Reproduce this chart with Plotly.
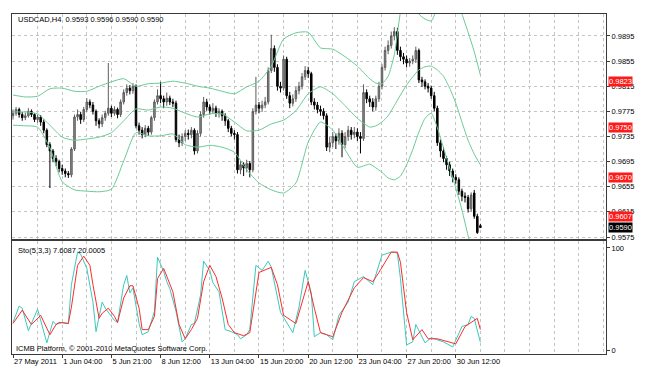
import plotly.graph_objects as go
from plotly.subplots import make_subplots

# ---------------- data (prices in 1/10000 units) ----------------
bars = list(range(153))

opens = [9768,9772,9778,9770,9765,9768,9775,9770,9762,9766,9758,9745,9722,9712,9700,9695,9684,9680,9676,9674,
         9715,9766,9770,9762,9778,9790,9785,9775,9760,9755,9765,9772,9780,9772,9778,9770,9790,9805,9812,9808,
         9815,9752,9745,9738,9748,9742,9765,9790,9800,9795,9790,9796,9790,9788,9730,9725,9735,9740,9738,9745,
         9712,9740,9770,9790,9782,9776,9780,9772,9775,9768,9760,9748,9740,9738,9682,9690,9685,9692,9682,9775,
         9785,9780,9785,9790,9840,9875,9845,9815,9812,9858,9800,9788,9795,9808,9815,9830,9840,9835,9790,9785,
         9778,9775,9768,9718,9725,9735,9728,9740,9722,9735,9745,9738,9742,9735,9732,9805,9795,9790,9782,9795,
         9815,9845,9872,9880,9895,9902,9872,9862,9858,9852,9855,9858,9872,9825,9822,9815,9812,9800,9780,9725,
         9712,9700,9690,9680,9670,9666,9648,9640,9638,9620,9645,9608,9593]
highs = [9778,9782,9781,9774,9773,9780,9778,9772,9770,9769,9762,9748,9726,9715,9705,9698,9690,9684,9680,9718,
         9770,9778,9774,9782,9796,9794,9790,9778,9764,9770,9776,9852,9784,9783,9781,9794,9810,9818,9817,9820,
         9818,9757,9750,9753,9752,9768,9794,9810,9822,9800,9805,9800,9795,9792,9738,9740,9745,9746,9750,9748,
         9745,9775,9798,9795,9786,9788,9784,9780,9778,9772,9763,9752,9745,9742,9696,9694,9698,9696,9780,9830,
         9790,9792,9798,9845,9897,9880,9850,9822,9864,9862,9806,9802,9814,9822,9836,9847,9846,9838,9796,9790,
         9784,9780,9772,9735,9742,9740,9748,9745,9742,9752,9750,9750,9748,9742,9818,9810,9800,9796,9800,9822,
         9850,9878,9888,9902,9909,9908,9878,9868,9864,9860,9864,9878,9875,9830,9826,9820,9816,9806,9784,9730,
         9718,9704,9695,9684,9675,9670,9652,9646,9642,9646,9650,9612,9596]
lows = [9762,9768,9765,9760,9761,9765,9766,9758,9757,9752,9740,9718,9653,9694,9688,9678,9674,9670,9669,9670,
        9712,9760,9755,9758,9774,9780,9770,9752,9748,9750,9760,9768,9766,9768,9764,9766,9786,9800,9802,9803,
        9748,9738,9732,9734,9736,9738,9760,9786,9788,9780,9784,9785,9782,9726,9718,9720,9728,9730,9732,9706,
        9708,9735,9765,9776,9770,9771,9766,9765,9760,9752,9742,9735,9730,9676,9675,9672,9678,9670,9678,9770,
        9772,9774,9780,9786,9836,9838,9808,9805,9808,9795,9780,9783,9790,9802,9810,9825,9828,9785,9778,9772,
        9768,9762,9712,9710,9718,9715,9722,9702,9716,9728,9730,9732,9728,9708,9728,9788,9782,9775,9776,9790,
        9810,9840,9866,9875,9888,9865,9855,9850,9845,9846,9850,9852,9820,9814,9810,9805,9795,9775,9720,9702,
        9694,9682,9672,9662,9660,9642,9632,9630,9614,9615,9604,9580,9590]
closes = [9772,9778,9770,9765,9768,9775,9770,9762,9766,9758,9745,9722,9712,9700,9695,9684,9680,9676,9674,9715,
          9766,9770,9762,9778,9790,9785,9775,9760,9755,9765,9772,9780,9772,9778,9770,9790,9805,9812,9808,9815,
          9752,9745,9738,9748,9742,9765,9790,9800,9795,9790,9796,9790,9788,9730,9725,9735,9740,9738,9745,9712,
          9740,9770,9790,9782,9776,9780,9772,9775,9768,9760,9748,9740,9738,9682,9690,9685,9692,9682,9775,9785,
          9780,9785,9790,9840,9875,9845,9815,9812,9858,9800,9788,9795,9808,9815,9830,9840,9835,9790,9785,9778,
          9775,9768,9718,9725,9735,9728,9740,9722,9735,9745,9738,9742,9735,9732,9805,9795,9790,9782,9795,9815,
          9845,9872,9880,9895,9902,9872,9862,9858,9852,9855,9858,9872,9825,9822,9815,9812,9800,9780,9725,9712,
          9700,9690,9680,9670,9666,9648,9640,9638,9620,9642,9608,9582,9590]

# Bollinger bands read at sampled bars
band_bar = [0,4,8,12,16,20,24,28,32,36,40,44,48,52,56,60,64,68,72,76,80,84,88,92,96,100,104,108,112,116,
            118,120,122,124,126,128,130,132,134,136,138,140,142,144,146,148,150,152]
bb_upper = [0.9801,0.9798,0.9799,0.9811,0.9812,0.9807,0.9807,0.9815,0.9822,0.9827,0.9815,0.9819,0.9820,0.9823,
            0.9820,0.9815,0.9812,0.9807,0.9803,0.9814,0.9823,0.9847,0.9890,0.9900,0.9901,0.9876,0.9874,0.9862,
            0.9847,0.9827,0.9820,0.9819,0.9831,0.9865,0.9933,0.9976,0.9965,0.9930,0.9922,0.9919,0.9940,0.9965,
            0.9968,0.9957,0.9930,0.9901,0.9870,0.9833]
bb_middle = [0.9774,0.9774,0.9771,0.9753,0.9734,0.9729,0.9731,0.9734,0.9741,0.9760,0.9779,0.9777,0.9782,0.9780,
             0.9772,0.9766,0.9771,0.9771,0.9758,0.9744,0.9745,0.9755,0.9761,0.9776,0.9803,0.9814,0.9803,0.9784,
             0.9764,0.9750,0.9752,0.9758,0.9768,0.9784,0.9801,0.9817,0.9830,0.9841,0.9846,0.9847,0.9841,0.9831,
             0.9812,0.9788,0.9758,0.9729,0.9707,0.9690]
bb_lower = [0.9753,0.9752,0.9750,0.9717,0.9663,0.9650,0.9648,0.9647,0.9651,0.9696,0.9741,0.9736,0.9736,0.9739,
            0.9722,0.9718,0.9721,0.9718,0.9710,0.9682,0.9661,0.9650,0.9645,0.9661,0.9726,0.9758,0.9745,0.9714,
            0.9686,0.9691,0.9685,0.9678,0.9669,0.9666,0.9672,0.9690,0.9714,0.9742,0.9764,0.9772,0.9749,0.9717,
            0.9685,0.9653,0.9618,0.9577,0.9542,0.9507]

# Stochastic (5,3,3)
k_bar = [0,2,3,5,8,11,13,14,16,18,19,21,22,24,26,27,29,30,33,34,36,37,38,39,41,42,44,46,47,49,50,51,53,55,56,
         58,59,61,62,64,65,67,69,71,73,74,76,77,79,81,83,84,87,88,91,93,95,97,98,100,102,104,106,109,111,114,117,
         120,123,125,126,128,130,131,134,136,140,143,146,148,149,150,152]
k_val = [27,43,41,19,40,7,28,25,27,26,64,96,94,80,47,18,47,41,29,27,64,73,56,61,26,15,18,38,91,77,67,60,38,8,11,
         25,26,54,87,78,66,57,20,18,15,11,15,20,83,78,87,81,37,32,17,42,78,56,13,17,15,10,34,47,67,72,64,
         93,96,95,70,5,8,25,7,12,8,3,23,25,33,31,7.6087]
d_bar = [0,3,6,9,12,14,15,18,19,21,23,25,26,28,29,31,33,34,36,38,39,41,42,44,46,47,49,51,52,54,56,58,60,62,64,
         66,68,70,72,75,77,80,83,84,86,88,92,96,98,100,102,104,107,111,114,117,119,123,125,126,128,130,133,135,
         138,144,147,151,152]
d_val = [26,39,25,34,15,25,27,26,42,83,92,83,64,31,36,41,33,27,51,63,63,41,20,20,33,70,80,64,57,25,11,20,31,67,83,
         72,51,25,17,14,17,76,80,81,64,34,26,67,41,17,15,13,37,61,71,67,76,96,96,86,37,10,20,11,
         11,6,23,31,20.0005]

time_ticks = [0,16,32,48,64,80,96,112,128,144]
time_labels = ["27 May 2011","1 Jun 04:00","5 Jun 21:00","8 Jun 12:00","13 Jun 04:00",
               "15 Jun 20:00","20 Jun 12:00","23 Jun 04:00","27 Jun 20:00","30 Jun 12:00"]
price_ticks = [0.9575,0.9615,0.9655,0.9695,0.9735,0.9775,0.9815,0.9855,0.9895]
red_levels = [0.9823,0.9750,0.9670,0.9607]
bid_level = 0.9590

# ---------------- figure ----------------
FONT = "Liberation Sans"
FS = 7.5
GRID = "#c4c4c4"
BB = "#6acb95"

fig = make_subplots(rows=2, cols=1, shared_xaxes=True, vertical_spacing=0.0)

fig.add_hline(y=bid_level, line=dict(color="#c8c8c8", width=2), layer="below", row=1, col=1)
for lv in red_levels:
    fig.add_hline(y=lv, line=dict(color="#ff3a3a", width=1.5), layer="above", row=1, col=1)

for band in (bb_upper, bb_middle, bb_lower):
    fig.add_trace(go.Scatter(x=band_bar, y=band, mode="lines",
                             line=dict(color=BB, width=1, shape="spline", smoothing=0.6),
                             hoverinfo="skip"), row=1, col=1)

fig.add_trace(go.Candlestick(
    x=bars,
    open=[v / 10000 for v in opens], high=[v / 10000 for v in highs],
    low=[v / 10000 for v in lows], close=[v / 10000 for v in closes],
    increasing=dict(line=dict(color="#5c5c5c", width=1), fillcolor="#8e8e8e"),
    decreasing=dict(line=dict(color="#000000", width=1), fillcolor="#000000"),
    whiskerwidth=0, hoverinfo="skip"), row=1, col=1)

fig.add_trace(go.Scatter(x=k_bar, y=k_val, mode="lines",
                         line=dict(color="#3cc8bc", width=1), hoverinfo="skip"), row=2, col=1)
fig.add_trace(go.Scatter(x=d_bar, y=d_val, mode="lines",
                         line=dict(color="#ff2a2a", width=1), hoverinfo="skip"), row=2, col=1)

xcommon = dict(range=[-0.325, 192.85], tickmode="array", tickvals=time_ticks,
               showgrid=True, gridcolor=GRID, griddash="dot", gridwidth=1,
               minor=dict(tickmode="linear", tick0=0, dtick=8, showgrid=True,
                          gridcolor=GRID, griddash="dot", gridwidth=1),
               showline=True, mirror=True, linecolor="#3a3a3a", linewidth=1,
               zeroline=False, fixedrange=True, automargin=False, tickangle=0)

fig.update_layout(
    width=654, height=377,
    margin=dict(l=12, r=48, t=14, b=23, autoexpand=False),
    paper_bgcolor="white", plot_bgcolor="white",
    showlegend=False, hovermode=False,
    font=dict(family=FONT, size=FS, color="black"),
)
fig.update_xaxes(**xcommon)
fig.update_layout(
    xaxis=dict(rangeslider=dict(visible=False), showticklabels=False, ticks=""),
    xaxis2=dict(showticklabels=True, ticktext=time_labels, ticks="outside", ticklen=3,
                tickcolor="#3a3a3a", ticklabelposition="outside right",
                tickfont=dict(family=FONT, size=FS)),
    yaxis=dict(domain=[0.3382, 1.0], side="right", range=[0.95718, 0.99300],
               tickmode="array", tickvals=price_ticks, ticktext=[f"{v:.4f}" for v in price_ticks],
               showgrid=True, gridcolor=GRID, griddash="dot", ticks="outside", ticklen=3,
               tickcolor="#3a3a3a", showline=True, mirror=True, linecolor="#3a3a3a",
               zeroline=False, fixedrange=True, automargin=False, tickfont=dict(family=FONT, size=FS)),
    yaxis2=dict(domain=[0.0, 0.3324], side="right", range=[-3.92, 106.86],
                tickmode="array", tickvals=[0, 100], ticktext=["0", "100"],
                showgrid=False, ticks="outside", ticklen=3, tickcolor="#3a3a3a",
                showline=True, mirror=True, linecolor="#3a3a3a",
                zeroline=False, fixedrange=True, automargin=False, tickfont=dict(family=FONT, size=FS)),
)

ann = []
ann.append(dict(xref="x domain", yref="y domain", x=0.0067, y=0.975, xanchor="left", yanchor="middle",
                text="USDCAD,H4  0.9593 0.9596 0.9590 0.9590", showarrow=False,
                font=dict(family=FONT, size=FS, color="black")))
ann.append(dict(xref="x2 domain", yref="y2 domain", x=0.0067, y=0.916, xanchor="left", yanchor="middle",
                text="Sto(5,3,3) 7.6087 20.0005", showarrow=False,
                font=dict(family=FONT, size=FS, color="black")))
ann.append(dict(xref="x2 domain", yref="y2 domain", x=0.0034, y=0.049, xanchor="left", yanchor="middle",
                text="ICMB Platform, © 2001-2010 MetaQuotes Software Corp.", showarrow=False,
                font=dict(family=FONT, size=FS, color="black")))
for lv in red_levels:
    ann.append(dict(xref="x domain", yref="y", x=1, y=lv, xanchor="left", yanchor="middle", xshift=2,
                    text=f"{lv:.4f}", showarrow=False, bgcolor="#ff1a1a", borderpad=0,
                    font=dict(family=FONT, size=FS, color="white")))
ann.append(dict(xref="x domain", yref="y", x=1, y=bid_level, xanchor="left", yanchor="middle", xshift=2,
                text=f"{bid_level:.4f}", showarrow=False, bgcolor="#000000", borderpad=0,
                font=dict(family=FONT, size=FS, color="white")))
fig.update_layout(annotations=ann)

fig.write_html("out.html", config={"displayModeBar": False, "staticPlot": True},
               post_script="document.body.style.margin='0px';document.body.style.overflow='hidden';")
